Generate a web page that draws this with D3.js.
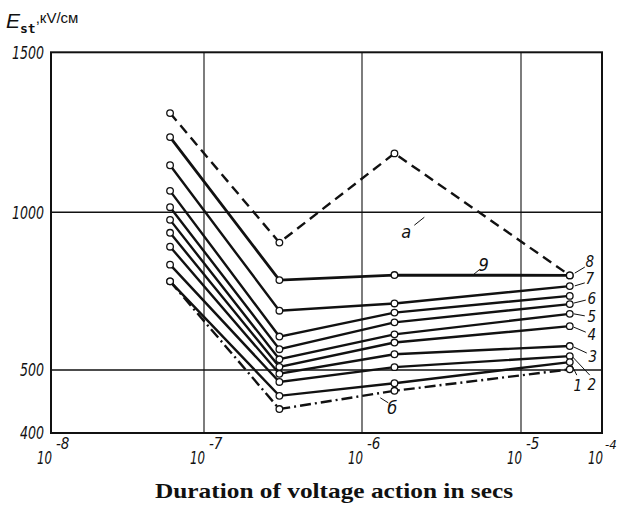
<!DOCTYPE html>
<html>
<head>
<meta charset="utf-8">
<script src="https://cdn.jsdelivr.net/npm/d3@7"></script>
<style>
  body { margin: 0; background: #fff; }
  svg { display: block; }
  .tick-label { font-family: 'Liberation Sans Narrow', 'DejaVu Sans Condensed', sans-serif; font-style: italic; fill: #111; }
</style>
</head>
<body>
<svg id="chart" width="618" height="516"></svg>
<script>
// durations of voltage action, s (same for every curve)
const durations = [6e-8, 3e-7, 1.6e-6, 4e-5];

// breakdown strength E_st, kV/cm
const curveA = [1310, 904, 1184, 800];
const curve9 = [1235, 785, 801, 800];
const curve8 = [1147, 688, 711, 766];
const curve7 = [1067, 606, 682, 735];
const curve6 = [1016, 566, 651, 709];
const curve5 = [976, 534, 613, 678];
const curve4 = [935, 510, 587, 639];
const curve3 = [891, 494, 550, 576];
const curve2 = [834, 481, 509, 544];
const curve1 = [781, 459, 479, 525];
const curveB = [781, 438, 467, 502];

const xTicks = [1e-8, 1e-7, 1e-6, 1e-5, 1e-4];
const xTickExp = ['-8', '-7', '-6', '-5', '-4'];
const yTicks = [400, 500, 1000, 1500];

const series = [
  { name: 'a', values: curveA, style: 'dash' },
  { name: '9', values: curve9, style: 'thick' },
  { name: '8', values: curve8, style: 'solid' },
  { name: '7', values: curve7, style: 'solid' },
  { name: '6', values: curve6, style: 'solid' },
  { name: '5', values: curve5, style: 'solid' },
  { name: '4', values: curve4, style: 'solid' },
  { name: '3', values: curve3, style: 'solid' },
  { name: '2', values: curve2, style: 'solid' },
  { name: '1', values: curve1, style: 'solid' },
  { name: 'б', values: curveB, style: 'dashdot' }
];

const svg = d3.select('#chart');

// the printed axes are not uniform, so both scales are piecewise
const x = d3.scaleLog()
  .domain(xTicks)
  .range([51, 204, 362, 521, 602]);

const y = d3.scaleLinear()
  .domain(yTicks)
  .range([433, 370, 212.3, 52.3]);

// grid
svg.append('g')
  .selectAll('line')
  .data(xTicks.slice(1, -1))
  .join('line')
  .attr('x1', d => x(d)).attr('x2', d => x(d))
  .attr('y1', y(1500)).attr('y2', y(400))
  .attr('stroke', '#111').attr('stroke-width', 1.1);

svg.append('g')
  .selectAll('line')
  .data([500, 1000])
  .join('line')
  .attr('x1', x(1e-8)).attr('x2', x(1e-4))
  .attr('y1', d => y(d)).attr('y2', d => y(d))
  .attr('stroke', '#111').attr('stroke-width', 1.4);

// frame
svg.append('rect')
  .attr('x', x(1e-8)).attr('y', y(1500))
  .attr('width', x(1e-4) - x(1e-8))
  .attr('height', y(400) - y(1500))
  .attr('fill', 'none').attr('stroke', '#111').attr('stroke-width', 2);

// y tick labels
svg.append('g')
  .selectAll('text')
  .data(yTicks)
  .join('text')
  .attr('class', 'tick-label')
  .attr('x', 44).attr('y', d => y(d))
  .attr('dy', '0.36em')
  .attr('text-anchor', 'end')
  .attr('font-size', 18)
  .attr('textLength', d => String(d).length * 8)
  .attr('lengthAdjust', 'spacingAndGlyphs')
  .text(d => d);

// x tick labels: 10 with raised exponent
const xl = svg.append('g')
  .selectAll('g')
  .data(xTicks)
  .join('g')
  .attr('transform', d => `translate(${x(d)},0)`);
xl.append('text')
  .attr('class', 'tick-label')
  .attr('x', 1).attr('y', 464)
  .attr('text-anchor', 'end')
  .attr('font-size', 17)
  .attr('textLength', 15)
  .attr('lengthAdjust', 'spacingAndGlyphs')
  .text('10');
// last exponent sits at the page edge, keep it inside
xl.append('text')
  .attr('class', 'tick-label')
  .attr('x', (d, i) => i === xTicks.length - 1 ? 3 : 5).attr('y', 449)
  .attr('font-size', (d, i) => i === xTicks.length - 1 ? 13 : 15)
  .text((d, i) => xTickExp[i]);

// axis titles
const yt = svg.append('text')
  .attr('x', 6).attr('y', 28)
  .attr('fill', '#111');
yt.append('tspan')
  .attr('font-family', "'Liberation Sans Narrow', sans-serif")
  .attr('font-style', 'italic')
  .attr('font-size', 21)
  .text('E');
yt.append('tspan')
  .attr('font-family', "'DejaVu Sans Mono', monospace")
  .attr('font-weight', 'bold')
  .attr('font-size', 13)
  .attr('dy', 5)
  .text('st');
yt.append('tspan')
  .attr('font-family', "'Liberation Sans Narrow', sans-serif")
  .attr('font-size', 15)
  .attr('dy', -10)
  .text(',кV/см');

svg.append('text')
  .attr('x', 334).attr('y', 498)
  .attr('text-anchor', 'middle')
  .attr('font-family', "'Liberation Serif', 'DejaVu Serif', serif")
  .attr('font-weight', 'bold')
  .attr('font-size', 21)
  .attr('textLength', 358)
  .attr('lengthAdjust', 'spacingAndGlyphs')
  .attr('fill', '#111')
  .text('Duration of voltage action in secs');

// curves
const line = d3.line()
  .x((d, i) => x(durations[i]))
  .y(d => y(d));

const dashes = { dash: '10,6', dashdot: '11,4,2,4', solid: null, thick: null };

svg.append('g')
  .selectAll('path')
  .data(series)
  .join('path')
  .attr('d', d => line(d.values))
  .attr('fill', 'none')
  .attr('stroke', '#111')
  .attr('stroke-width', d => d.style === 'thick' ? 2.8 : 2.4)
  .attr('stroke-dasharray', d => dashes[d.style]);

svg.append('g')
  .selectAll('g')
  .data(series)
  .join('g')
  .selectAll('circle')
  .data(d => d.values)
  .join('circle')
  .attr('cx', (d, i) => x(durations[i]))
  .attr('cy', d => y(d))
  .attr('r', 3.3)
  .attr('fill', '#fff')
  .attr('stroke', '#111')
  .attr('stroke-width', 1.3);

// curve labels: [name, label dx, dy, leader start dx, dy, leader end dx, dy] in px, relative to last point
const endLabels = [
  ['8', 20, -24, 5, -13, 15, -19],
  ['7', 20, -17, 5, -10, 15, -13],
  ['6', 22, -5, 4, -1, 16, -4],
  ['5', 22, 3, 4, 0, 15, 2],
  ['4', 22, 9, 4, 1, 16, 6],
  ['3', 23, 11, 4, 1, 17, 7],
  ['2', 22, 29, 3, 1, 20, 19],
  ['1', 8, 24, 2, 3, 7, 13]
];

const lastIdx = durations.length - 1;
const byName = Object.fromEntries(series.map(s => [s.name, s]));

endLabels.forEach(([name, lx, ly, sx, sy, ex, ey]) => {
  const px = x(durations[lastIdx]);
  const py = y(byName[name].values[lastIdx]);
  svg.append('line')
    .attr('x1', px + sx).attr('y1', py + sy)
    .attr('x2', px + ex).attr('y2', py + ey)
    .attr('stroke', '#111').attr('stroke-width', 1);
  svg.append('text')
    .attr('class', 'tick-label')
    .attr('x', px + lx).attr('y', py + ly)
    .attr('dy', '0.35em')
    .attr('text-anchor', 'middle')
    .attr('font-size', 15)
    .text(name);
});

// labels placed along the middle of the chart
const midLabels = [
  { text: '9', at: [5.5e-6, 800], lx: 4, ly: -11, leader: [[-6, -1], [0, -6]] },
  { text: 'a', at: [1.9e-6, 940], lx: 0, ly: 0, leader: [[8, -6], [18, -14]] },
  { text: 'б', at: [1.55e-6, 440], lx: 0, ly: 0, leader: [[-12, -10], [-4, -5]] }
];

midLabels.forEach(m => {
  const px = x(m.at[0]);
  const py = y(m.at[1]);
  svg.append('line')
    .attr('x1', px + m.leader[0][0]).attr('y1', py + m.leader[0][1])
    .attr('x2', px + m.leader[1][0]).attr('y2', py + m.leader[1][1])
    .attr('stroke', '#111').attr('stroke-width', 1);
  svg.append('text')
    .attr('class', 'tick-label')
    .attr('x', px + m.lx).attr('y', py + m.ly)
    .attr('dy', '0.35em')
    .attr('text-anchor', 'middle')
    .attr('font-size', 18)
    .text(m.text);
});
</script>
</body>
</html>
